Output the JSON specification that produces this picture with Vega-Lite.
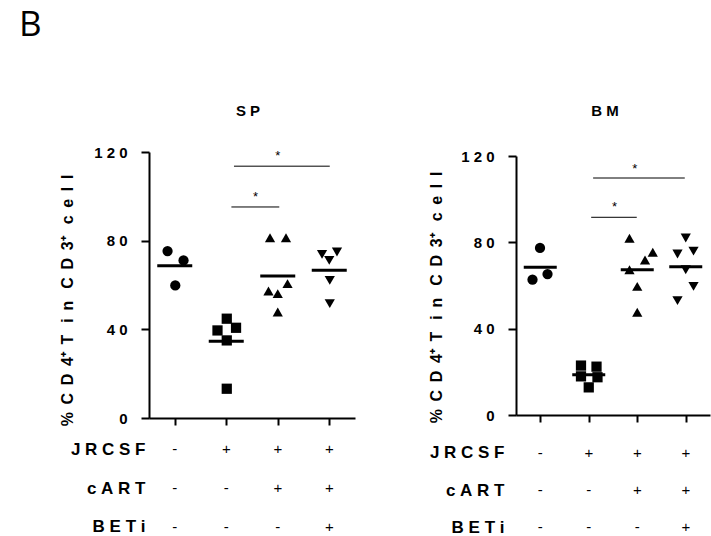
{
  "$schema": "https://vega.github.io/schema/vega-lite/v6.json",
  "padding": {"left": 19, "top": 8, "right": 5, "bottom": 5},
  "background": "white",
  "title": {"text": "B", "anchor": "start", "font": "Open Sans", "fontSize": 35, "fontWeight": "normal", "color": "black", "offset": 61, "dx": -40},
  "config": {
    "view": {"stroke": null},
    "font": "Liberation Sans",
    "axis": {"domainColor": "black", "tickColor": "black", "labelColor": "black", "titleColor": "black", "grid": false}
  },
  "datasets": {
    "sp": [
      {"grp": "Mock", "g": 1, "x": 0.86, "v": 75.3},
      {"grp": "Mock", "g": 1, "x": 1.17, "v": 71.1},
      {"grp": "Mock", "g": 1, "x": 1.01, "v": 59.8},
      {"grp": "JRCSF", "g": 2, "x": 2.01, "v": 44.8},
      {"grp": "JRCSF", "g": 2, "x": 1.83, "v": 39.5},
      {"grp": "JRCSF", "g": 2, "x": 2.19, "v": 40.7},
      {"grp": "JRCSF", "g": 2, "x": 2.01, "v": 35.0},
      {"grp": "JRCSF", "g": 2, "x": 2.01, "v": 13.2},
      {"grp": "JRCSF+cART", "g": 3, "x": 2.85, "v": 81.3},
      {"grp": "JRCSF+cART", "g": 3, "x": 3.16, "v": 81.3},
      {"grp": "JRCSF+cART", "g": 3, "x": 3.19, "v": 60.6},
      {"grp": "JRCSF+cART", "g": 3, "x": 2.82, "v": 57.3},
      {"grp": "JRCSF+cART", "g": 3, "x": 3.0, "v": 56.1},
      {"grp": "JRCSF+cART", "g": 3, "x": 3.0, "v": 47.8},
      {"grp": "JRCSF+cART+BETi", "g": 4, "x": 3.86, "v": 73.8},
      {"grp": "JRCSF+cART+BETi", "g": 4, "x": 4.15, "v": 74.9},
      {"grp": "JRCSF+cART+BETi", "g": 4, "x": 4.0, "v": 71.1},
      {"grp": "JRCSF+cART+BETi", "g": 4, "x": 4.01, "v": 62.1},
      {"grp": "JRCSF+cART+BETi", "g": 4, "x": 4.01, "v": 51.6}
    ],
    "bm": [
      {"grp": "Mock", "g": 1, "x": 0.995, "v": 77.4},
      {"grp": "Mock", "g": 1, "x": 1.15, "v": 65.3},
      {"grp": "Mock", "g": 1, "x": 0.84, "v": 62.7},
      {"grp": "JRCSF", "g": 2, "x": 1.84, "v": 22.9},
      {"grp": "JRCSF", "g": 2, "x": 2.16, "v": 22.4},
      {"grp": "JRCSF", "g": 2, "x": 1.84, "v": 17.9},
      {"grp": "JRCSF", "g": 2, "x": 2.18, "v": 17.5},
      {"grp": "JRCSF", "g": 2, "x": 2.0, "v": 12.8},
      {"grp": "JRCSF+cART", "g": 3, "x": 2.84, "v": 81.9},
      {"grp": "JRCSF+cART", "g": 3, "x": 3.32, "v": 75.4},
      {"grp": "JRCSF+cART", "g": 3, "x": 3.16, "v": 71.8},
      {"grp": "JRCSF+cART", "g": 3, "x": 2.84, "v": 67.3},
      {"grp": "JRCSF+cART", "g": 3, "x": 3.0, "v": 59.6},
      {"grp": "JRCSF+cART", "g": 3, "x": 3.0, "v": 47.6},
      {"grp": "JRCSF+cART+BETi", "g": 4, "x": 4.0, "v": 82.0},
      {"grp": "JRCSF+cART+BETi", "g": 4, "x": 3.83, "v": 74.6},
      {"grp": "JRCSF+cART+BETi", "g": 4, "x": 4.16, "v": 75.9},
      {"grp": "JRCSF+cART+BETi", "g": 4, "x": 4.0, "v": 67.3},
      {"grp": "JRCSF+cART+BETi", "g": 4, "x": 4.16, "v": 59.6},
      {"grp": "JRCSF+cART+BETi", "g": 4, "x": 3.83, "v": 53.0}
    ],
    "sp_sig": [
      {"x1": 2.15, "x2": 4.01, "y": 113.6, "sx": 3.0, "sy": 116.5, "label": "*"},
      {"x1": 2.1, "x2": 3.03, "y": 95.2, "sx": 2.57, "sy": 98.0, "label": "*"}
    ],
    "bm_sig": [
      {"x1": 2.09, "x2": 3.98, "y": 109.8, "sx": 2.95, "sy": 112.3, "label": "*"},
      {"x1": 2.05, "x2": 2.99, "y": 91.6, "sx": 2.53, "sy": 94.5, "label": "*"}
    ],
    "table": [
      {"row": "J\u00a0R\u00a0C\u00a0S\u00a0F", "g": 1, "sign": "-"},
      {"row": "J\u00a0R\u00a0C\u00a0S\u00a0F", "g": 2, "sign": "+"},
      {"row": "J\u00a0R\u00a0C\u00a0S\u00a0F", "g": 3, "sign": "+"},
      {"row": "J\u00a0R\u00a0C\u00a0S\u00a0F", "g": 4, "sign": "+"},
      {"row": "c\u00a0A\u00a0R\u00a0T", "g": 1, "sign": "-"},
      {"row": "c\u00a0A\u00a0R\u00a0T", "g": 2, "sign": "-"},
      {"row": "c\u00a0A\u00a0R\u00a0T", "g": 3, "sign": "+"},
      {"row": "c\u00a0A\u00a0R\u00a0T", "g": 4, "sign": "+"},
      {"row": "B\u00a0E\u00a0T\u00a0i", "g": 1, "sign": "-"},
      {"row": "B\u00a0E\u00a0T\u00a0i", "g": 2, "sign": "-"},
      {"row": "B\u00a0E\u00a0T\u00a0i", "g": 3, "sign": "-"},
      {"row": "B\u00a0E\u00a0T\u00a0i", "g": 4, "sign": "+"}
    ]
  },
  "align": "none",
  "spacing": 72,
  "hconcat": [
    {
      "bounds": "flush",
      "spacing": 12,
      "vconcat": [
        {
          "width": 206,
          "height": 266,
          "title": {"text": "S\u00a0P", "fontSize": 15, "fontWeight": "bold", "color": "black", "offset": 26, "dx": -4},
          "layer": [
            {
              "data": {"name": "sp"},
              "mark": {"type": "point", "filled": true, "opacity": 1, "color": "black"},
              "encoding": {
                "x": {"field": "x", "type": "quantitative", "scale": {"domain": [0.5, 4.5], "nice": false, "zero": false},
                  "axis": {"title": null, "labels": false, "values": [1, 2, 3, 4], "domainWidth": 2, "tickWidth": 2, "tickSize": 7}},
                "y": {"field": "v", "type": "quantitative", "scale": {"domain": [0, 120], "nice": false},
                  "axis": {"values": [0, 40, 80, 120], "domainWidth": 2, "tickWidth": 2, "tickSize": 8,
                    "labelFontSize": 15, "labelFontWeight": "bold", "labelPadding": 14,
                    "labelExpr": "datum.value == 120 ? '1\u00a02\u00a00' : datum.value == 80 ? '8\u00a00' : datum.value == 40 ? '4\u00a00' : '0'",
                    "title": "%\u00a0\u2009C\u00a0\u2009D\u00a0\u20094\u207A\u00a0\u2009T\u00a0\u00a0\u2009i\u00a0\u2009n\u00a0\u00a0\u2009C\u00a0\u2009D\u00a0\u20093\u207A\u00a0\u00a0\u2009c\u00a0\u2009e\u00a0\u2009l\u00a0\u2009l",
                    "titleFontSize": 16, "titleFontWeight": "bold", "titleAngle": 270, "titleX": -74, "titleY": 148}},
                "shape": {"field": "grp", "type": "nominal", "scale": {"domain": ["Mock", "JRCSF", "JRCSF+cART", "JRCSF+cART+BETi"], "range": ["circle", "square", "triangle-up", "triangle-down"]}, "legend": null},
                "size": {"field": "grp", "type": "nominal", "scale": {"domain": ["Mock", "JRCSF", "JRCSF+cART", "JRCSF+cART+BETi"], "range": [105, 105, 160, 160]}, "legend": null}
              }
            },
            {
              "data": {"name": "sp"},
              "transform": [{"aggregate": [{"op": "mean", "field": "v", "as": "mean_v"}], "groupby": ["g"]}],
              "mark": {"type": "tick", "orient": "horizontal", "size": 35, "thickness": 3, "color": "black", "opacity": 1},
              "encoding": {
                "x": {"field": "g", "type": "quantitative"},
                "y": {"field": "mean_v", "type": "quantitative"}
              }
            },
            {
              "data": {"name": "sp_sig"},
              "mark": {"type": "rule", "color": "black", "strokeWidth": 1},
              "encoding": {
                "x": {"field": "x1", "type": "quantitative"},
                "x2": {"field": "x2"},
                "y": {"field": "y", "type": "quantitative"}
              }
            },
            {
              "data": {"name": "sp_sig"},
              "mark": {"type": "text", "fontSize": 13, "color": "black", "baseline": "alphabetic"},
              "encoding": {
                "x": {"field": "sx", "type": "quantitative"},
                "y": {"field": "sy", "type": "quantitative"},
                "text": {"field": "label"}
              }
            }
          ]
        },
        {
          "width": 206,
          "height": 116,
          "data": {"name": "table"},
          "mark": {"type": "text", "fontSize": 15, "color": "black"},
          "encoding": {
            "x": {"field": "g", "type": "quantitative", "scale": {"domain": [0.5, 4.5], "nice": false, "zero": false}, "axis": null},
            "y": {"field": "row", "type": "nominal", "sort": null,
              "scale": {"domain": ["J\u00a0R\u00a0C\u00a0S\u00a0F", "c\u00a0A\u00a0R\u00a0T", "B\u00a0E\u00a0T\u00a0i"]},
              "axis": {"title": null, "domain": false, "ticks": false, "labelFontSize": 17, "labelFontWeight": "bold", "labelPadding": 4}},
            "text": {"field": "sign"}
          }
        }
      ]
    },
    {
      "bounds": "flush",
      "spacing": 3,
      "vconcat": [
        {
          "width": 194,
          "height": 1,
          "data": {"values": []},
          "mark": "point"
        },
        {
          "bounds": "flush",
          "spacing": 19,
          "vconcat": [
            {
              "width": 194,
              "height": 259,
              "title": {"text": "B\u00a0M", "fontSize": 15, "fontWeight": "bold", "color": "black", "offset": 30, "dx": -8},
              "layer": [
                {
                  "data": {"name": "bm"},
                  "mark": {"type": "point", "filled": true, "opacity": 1, "color": "black"},
                  "encoding": {
                    "x": {"field": "x", "type": "quantitative", "scale": {"domain": [0.5, 4.5], "nice": false, "zero": false},
                      "axis": {"title": null, "labels": false, "values": [1, 2, 3, 4], "domainWidth": 2, "tickWidth": 2, "tickSize": 7}},
                    "y": {"field": "v", "type": "quantitative", "scale": {"domain": [0, 120], "nice": false},
                      "axis": {"values": [0, 40, 80, 120], "domainWidth": 2, "tickWidth": 2, "tickSize": 8,
                        "labelFontSize": 15, "labelFontWeight": "bold", "labelPadding": 14,
                        "labelExpr": "datum.value == 120 ? '1\u00a02\u00a00' : datum.value == 80 ? '8\u00a00' : datum.value == 40 ? '4\u00a00' : '0'",
                        "title": "%\u00a0\u2009C\u00a0\u2009D\u00a0\u20094\u207A\u00a0\u2009T\u00a0\u00a0\u2009i\u00a0\u2009n\u00a0\u00a0\u2009C\u00a0\u2009D\u00a0\u20093\u207A\u00a0\u00a0\u2009c\u00a0\u2009e\u00a0\u2009l\u00a0\u2009l",
                        "titleFontSize": 16, "titleFontWeight": "bold", "titleAngle": 270, "titleX": -72, "titleY": 141}},
                    "shape": {"field": "grp", "type": "nominal", "scale": {"domain": ["Mock", "JRCSF", "JRCSF+cART", "JRCSF+cART+BETi"], "range": ["circle", "square", "triangle-up", "triangle-down"]}, "legend": null},
                    "size": {"field": "grp", "type": "nominal", "scale": {"domain": ["Mock", "JRCSF", "JRCSF+cART", "JRCSF+cART+BETi"], "range": [105, 105, 160, 160]}, "legend": null}
                  }
                },
                {
                  "data": {"name": "bm"},
                  "transform": [{"aggregate": [{"op": "mean", "field": "v", "as": "mean_v"}], "groupby": ["g"]}],
                  "mark": {"type": "tick", "orient": "horizontal", "size": 33, "thickness": 3, "color": "black", "opacity": 1},
                  "encoding": {
                    "x": {"field": "g", "type": "quantitative"},
                    "y": {"field": "mean_v", "type": "quantitative"}
                  }
                },
                {
                  "data": {"name": "bm_sig"},
                  "mark": {"type": "rule", "color": "black", "strokeWidth": 1},
                  "encoding": {
                    "x": {"field": "x1", "type": "quantitative"},
                    "x2": {"field": "x2"},
                    "y": {"field": "y", "type": "quantitative"}
                  }
                },
                {
                  "data": {"name": "bm_sig"},
                  "mark": {"type": "text", "fontSize": 13, "color": "black", "baseline": "alphabetic"},
                  "encoding": {
                    "x": {"field": "sx", "type": "quantitative"},
                    "y": {"field": "sy", "type": "quantitative"},
                    "text": {"field": "label"}
                  }
                }
              ]
            },
            {
              "width": 194,
              "height": 112,
              "data": {"name": "table"},
              "mark": {"type": "text", "fontSize": 15, "color": "black"},
              "encoding": {
                "x": {"field": "g", "type": "quantitative", "scale": {"domain": [0.5, 4.5], "nice": false, "zero": false}, "axis": null},
                "y": {"field": "row", "type": "nominal", "sort": null,
                  "scale": {"domain": ["J\u00a0R\u00a0C\u00a0S\u00a0F", "c\u00a0A\u00a0R\u00a0T", "B\u00a0E\u00a0T\u00a0i"]},
                  "axis": {"title": null, "domain": false, "ticks": false, "labelFontSize": 17, "labelFontWeight": "bold", "labelPadding": 12}},
                "text": {"field": "sign"}
              }
            }
          ]
        }
      ]
    }
  ]
}
